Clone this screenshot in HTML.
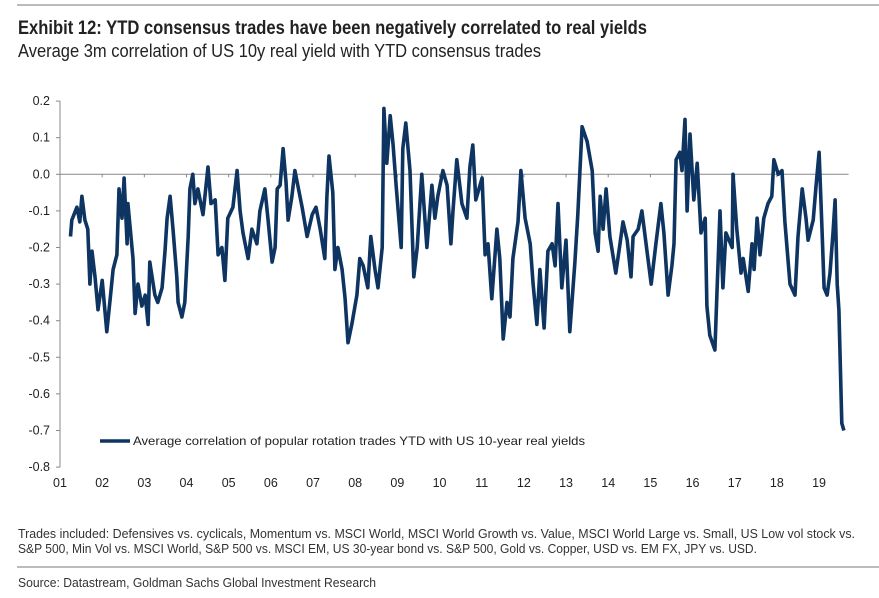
<!DOCTYPE html>
<html><head><meta charset="utf-8"><style>
html,body{margin:0;padding:0;background:#fff;}
svg{display:block;font-family:"Liberation Sans Narrow","Liberation Sans",sans-serif;}
</style></head><body>
<svg id="chart" width="879" height="598" viewBox="0 0 879 598">
<line x1="17" y1="5" x2="879" y2="5" stroke="#777" stroke-width="1"/>
<text x="18" y="34" font-size="19" font-weight="bold" fill="#222" textLength="629" lengthAdjust="spacingAndGlyphs">Exhibit 12: YTD consensus trades have been negatively correlated to real yields</text>
<text x="18" y="57" font-size="18" fill="#222" textLength="523" lengthAdjust="spacingAndGlyphs">Average 3m correlation of US 10y real yield with YTD consensus trades</text>
<g id="axes" font-family="Liberation Sans, sans-serif" font-size="12.5" fill="#222"></g>
<path id="series" fill="none" stroke="#0e3461" stroke-width="3.6" stroke-linejoin="round"/>
<line x1="100" y1="441" x2="130" y2="441" stroke="#0e3461" stroke-width="3.6"/>
<text x="133" y="445" font-family="Liberation Sans, sans-serif" font-size="12" fill="#222" textLength="452" lengthAdjust="spacingAndGlyphs">Average correlation of popular rotation trades YTD with US 10-year real yields</text>
<text x="18" y="538" font-size="13" fill="#333" textLength="837" lengthAdjust="spacingAndGlyphs">Trades included: Defensives vs. cyclicals, Momentum vs. MSCI World, MSCI World Growth vs. Value, MSCI World Large vs. Small, US Low vol stock vs.</text>
<text x="18" y="553" font-size="13" fill="#333" textLength="739" lengthAdjust="spacingAndGlyphs">S&amp;P 500, Min Vol vs. MSCI World, S&amp;P 500 vs. MSCI EM, US 30-year bond vs. S&amp;P 500, Gold vs. Copper, USD vs. EM FX, JPY vs. USD.</text>
<line x1="17" y1="567" x2="879" y2="567" stroke="#777" stroke-width="1"/>
<text x="18" y="587" font-size="13" fill="#333" textLength="358" lengthAdjust="spacingAndGlyphs">Source: Datastream, Goldman Sachs Global Investment Research</text>
</svg>
<script>
// years since start of 2001
const dates = [0.25,0.28,0.40,0.47,0.52,0.59,0.66,0.71,0.76,0.83,0.90,1.00,1.11,1.19,1.26,1.35,1.40,1.47,1.52,1.59,1.61,1.73,1.78,1.85,1.94,2.02,2.09,2.13,2.25,2.32,2.42,2.49,2.54,2.61,2.68,2.77,2.80,2.89,2.96,3.04,3.08,3.15,3.20,3.27,3.39,3.51,3.58,3.68,3.75,3.84,3.91,3.98,4.10,4.20,4.27,4.34,4.46,4.55,4.67,4.74,4.86,4.93,5.03,5.10,5.15,5.22,5.29,5.36,5.41,5.50,5.57,5.64,5.74,5.86,5.98,6.07,6.17,6.28,6.33,6.38,6.47,6.52,6.59,
6.69,6.76,6.83,6.92,7.04,7.11,7.19,7.30,7.37,7.47,7.54,7.64,7.68,7.75,7.83,7.90,7.97,8.09,8.13,8.20,8.30,8.39,8.47,8.58,8.70,8.82,8.89,8.96,9.08,9.18,9.27,9.32,9.41,9.53,9.65,9.72,9.79,9.86,10.01,10.08,10.15,10.24,10.36,10.43,10.51,10.60,10.67,10.74,10.86,10.93,11.03,11.15,11.22,11.31,11.38,11.48,11.57,11.67,11.74,11.81,11.90,12.00,12.09,12.21,12.28,12.38,12.50,12.62,12.69,12.76,12.81,12.88,12.95,
13.04,13.18,13.28,13.35,13.45,13.54,13.59,13.71,13.80,13.92,14.02,14.13,14.25,14.32,14.42,14.51,14.56,14.61,14.70,14.75,14.82,14.87,14.94,15.03,15.11,15.20,15.30,15.34,15.41,15.53,15.58,15.65,15.72,15.79,15.94,15.96,16.05,16.15,16.20,16.32,16.41,16.46,16.53,16.60,16.69,16.79,16.88,16.93,17.03,17.12,17.19,17.31,17.43,17.50,17.60,17.69,17.74,17.86,17.93,18.00,18.07,18.12,18.19,18.26,18.33,18.38,18.43,18.47,18.54,18.59];
const values = [-0.17,-0.125,-0.09,-0.13,-0.06,-0.125,-0.15,-0.30,-0.21,-0.28,-0.37,-0.29,-0.43,-0.34,-0.26,-0.22,-0.04,-0.12,-0.01,-0.19,-0.08,-0.23,-0.38,-0.30,-0.36,-0.33,-0.41,-0.24,-0.33,-0.35,-0.31,-0.21,-0.12,-0.06,-0.15,-0.28,-0.35,-0.39,-0.35,-0.17,-0.04,0.00,-0.08,-0.04,-0.11,0.02,-0.08,-0.07,-0.22,-0.20,-0.29,-0.12,-0.09,0.01,-0.10,-0.16,-0.23,-0.15,-0.19,-0.10,-0.04,-0.12,-0.24,-0.20,-0.04,-0.03,0.07,-0.02,-0.125,-0.06,0.01,-0.03,-0.09,-0.17,-0.11,-0.09,-0.15,-0.23,-0.06,0.05,-0.05,-0.26,-0.20,
-0.26,-0.34,-0.46,-0.41,-0.33,-0.23,-0.25,-0.31,-0.17,-0.26,-0.31,-0.20,0.18,0.03,0.16,0.08,-0.03,-0.20,0.07,0.14,0.01,-0.28,-0.20,0.00,-0.20,-0.03,-0.12,-0.06,0.01,-0.03,-0.19,-0.10,0.04,-0.08,-0.12,0.02,0.08,-0.07,-0.01,-0.22,-0.19,-0.34,-0.15,-0.23,-0.45,-0.35,-0.39,-0.23,-0.13,0.01,-0.12,-0.19,-0.30,-0.41,-0.26,-0.42,-0.21,-0.19,-0.25,-0.08,-0.31,-0.18,-0.43,-0.24,-0.11,0.13,0.09,0.01,-0.16,-0.21,-0.06,-0.15,-0.04,
-0.17,-0.27,-0.19,-0.13,-0.18,-0.28,-0.17,-0.15,-0.10,-0.21,-0.30,-0.19,-0.08,-0.16,-0.33,-0.25,-0.19,0.04,0.06,0.01,0.15,-0.10,0.11,-0.07,0.03,-0.16,-0.12,-0.36,-0.44,-0.48,-0.32,-0.10,-0.31,-0.16,-0.20,0.00,-0.15,-0.27,-0.23,-0.32,-0.19,-0.26,-0.12,-0.22,-0.12,-0.08,-0.06,0.04,0.00,0.01,-0.13,-0.30,-0.33,-0.17,-0.04,-0.12,-0.18,-0.125,-0.03,0.06,-0.15,-0.31,-0.33,-0.27,-0.16,-0.07,-0.30,-0.37,-0.68,-0.70];
const yTicks = [0.2,0.1,0.0,-0.1,-0.2,-0.3,-0.4,-0.5,-0.6,-0.7,-0.8];
const yTickLabels = ["0.2","0.1","0.0","-0.1","-0.2","-0.3","-0.4","-0.5","-0.6","-0.7","-0.8"];
const xTickLabels = ["01","02","03","04","05","06","07","08","09","10","11","12","13","14","15","16","17","18","19"];

const X0 = 60, YEARW = 42.17, Y0 = 174.3, UNIT = 366;
const xScale = t => X0 + t * YEARW;
const yScale = v => Y0 - v * UNIT;
const NS = "http://www.w3.org/2000/svg";
const axes = document.getElementById('axes');
function mk(tag, attrs){const e=document.createElementNS(NS,tag);for(const k in attrs)e.setAttribute(k,attrs[k]);return e;}

const yAxis = mk('line',{x1:X0,y1:yScale(0.2),x2:X0,y2:yScale(-0.8),stroke:'#888','stroke-width':1});


axes.appendChild(yAxis);
const zero = mk('line',{x1:X0,y1:yScale(0),x2:xScale(18.7),y2:yScale(0),stroke:'#888','stroke-width':1});


axes.appendChild(zero);

yTicks.forEach((v,i)=>{
  const tk = mk('line',{x1:X0-4,y1:yScale(v),x2:X0,y2:yScale(v),stroke:'#888'});
  
  
  axes.appendChild(tk);
  const t = mk('text',{x:X0-10,y:yScale(v)+4,'text-anchor':'end'});
  t.textContent = yTickLabels[i];
  
  
  axes.appendChild(t);
});
xTickLabels.forEach((lab,i)=>{
  const x = xScale(i);
  if(i>0){
    const tk = mk('line',{x1:x,y1:yScale(0),x2:x,y2:yScale(0)+3,stroke:'#888'});
    
    
    axes.appendChild(tk);
  }
  const t = mk('text',{x:x,y:487,'text-anchor':'middle'});
  t.textContent = lab;
  
  
  axes.appendChild(t);
});
let d='';
dates.forEach((t,i)=>{d += (i?'L':'M') + xScale(t).toFixed(1) + ',' + yScale(values[i]).toFixed(1);});
document.getElementById('series').setAttribute('d', d);
</script>
</body></html>
